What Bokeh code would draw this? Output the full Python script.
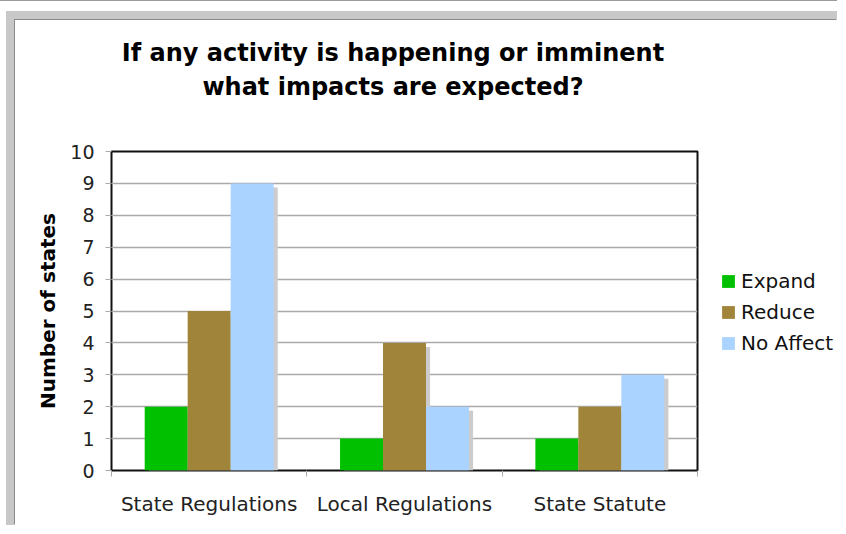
from bokeh.plotting import figure
from bokeh.models import Legend, LegendItem, FixedTicker, Div
from bokeh.layouts import column, row
from bokeh.embed import file_html
from bokeh.resources import INLINE

# ---- data ----
categories = ["State Regulations", "Local Regulations", "State Statute"]
series = ["Expand", "Reduce", "No Affect"]
expand = [2, 1, 1]
reduce_ = [5, 4, 2]
no_affect = [9, 2, 3]
y_ticks = [0, 1, 2, 3, 4, 5, 6, 7, 8, 9, 10]
title_lines = ["If any activity is happening or imminent", "what impacts are expected?"]
y_title = "Number of states"

colors = ["#00c000", "#a0843a", "#aad4ff"]
FONT = "DejaVu Sans"

# ---- title ----
title_div = Div(
    text=("<div style=\"width:756px; font-family:'DejaVu Sans'; font-weight:bold; font-size:24px; "
          "line-height:34px; text-align:center; color:#000; padding-top:16px;\">"
          + title_lines[0] + "<br>" + title_lines[1] + "</div>"),
    width=756, height=111, margin=0)

# ---- main chart ----
p = figure(frame_width=586, frame_height=319, x_range=(0, len(categories)), y_range=(0, 10),
           output_backend="svg", toolbar_location=None,
           min_border_left=96, min_border_right=3, min_border_top=20, min_border_bottom=55)
p.background_fill_color = "white"
p.border_fill_color = "white"
p.outline_line_color = "#111111"
p.outline_line_width = 2

data = [expand, reduce_, no_affect]
centers = [i + 0.5 for i in range(len(categories))]
bw = 0.22
offsets = [-bw, 0.0, bw]
shadow_dx = 0.021
shadow_dy = 0.125

for vals, off in zip(data, offsets):
    p.vbar(x=[c + off + shadow_dx for c in centers], top=[v - shadow_dy for v in vals],
           width=bw, fill_color="#cccccc", line_color=None)

for vals, off, col in zip(data, offsets, colors):
    p.vbar(x=[c + off for c in centers], top=vals, width=bw, fill_color=col, line_color=None)

# grid
p.xgrid.visible = False
p.ygrid.ticker = FixedTicker(ticks=y_ticks)
p.ygrid.grid_line_color = "#aaaaaa"
p.ygrid.grid_line_width = 1.5

# y axis
ya = p.yaxis[0]
ya.ticker = FixedTicker(ticks=y_ticks)
ya.axis_line_color = None
ya.major_tick_line_color = "#aaaaaa"
ya.major_tick_out = 6
ya.major_tick_in = 0
ya.minor_tick_line_color = None
ya.major_label_text_font = FONT
ya.major_label_text_font_size = "19px"
ya.major_label_text_color = "#222222"
ya.major_label_standoff = 11
ya.axis_label = y_title
ya.axis_label_text_font = FONT
ya.axis_label_text_font_style = "bold"
ya.axis_label_text_font_size = "20px"
ya.axis_label_text_color = "#000000"
ya.axis_label_standoff = 7

# x axis
xa = p.xaxis[0]
xa.ticker = FixedTicker(ticks=centers, minor_ticks=[float(i) for i in range(len(categories) + 1)])
xa.major_label_overrides = {c: name for c, name in zip(centers, categories)}
xa.axis_line_color = None
xa.major_tick_line_color = None
xa.major_tick_out = 0
xa.major_tick_in = 0
xa.minor_tick_line_color = "#aaaaaa"
xa.minor_tick_out = 6
xa.minor_tick_in = 0
xa.major_label_text_font = FONT
xa.major_label_text_font_size = "20px"
xa.major_label_text_color = "#222222"
xa.major_label_standoff = 15

# ---- legend panel (separate small figure to the right) ----
pl = figure(width=137, height=394, x_range=(0, 1), y_range=(0, 1), output_backend="svg",
            toolbar_location=None, min_border=0)
pl.axis.visible = False
pl.grid.visible = False
pl.outline_line_color = None
pl.background_fill_color = "white"
pl.border_fill_color = "white"
# legend proxies: one tiny bar each, kept far outside the visible range
swatches = [pl.vbar(x=[-50], top=[-50], bottom=-51, width=0.1, fill_color=col, line_color=None)
            for col in colors]
legend = Legend(items=[LegendItem(label=s, renderers=[r]) for s, r in zip(series, swatches)],
                location=(20, 115))
legend.label_text_font = FONT
legend.label_text_font_size = "20px"
legend.label_text_color = "#111111"
legend.glyph_width = 16
legend.glyph_height = 16
legend.label_height = 16
legend.label_standoff = 5
legend.spacing = 7
legend.padding = 0
legend.margin = 0
legend.border_line_color = None
legend.background_fill_alpha = 0
pl.add_layout(legend)

content = column(title_div, row(p, pl), styles={"box-shadow": "-1px -1px 0 0 #8a8a8a",
                                               "background-color": "white"})
inner = column(content, styles={"border-top": "9px solid #c8c8c8", "border-left": "9px solid #c8c8c8"})
outer = column(inner, styles={"border-top": "1px solid #9a9a9a", "padding-top": "10px",
                              "padding-left": "6px"})

open("out.html", "w").write(file_html(outer, INLINE))
